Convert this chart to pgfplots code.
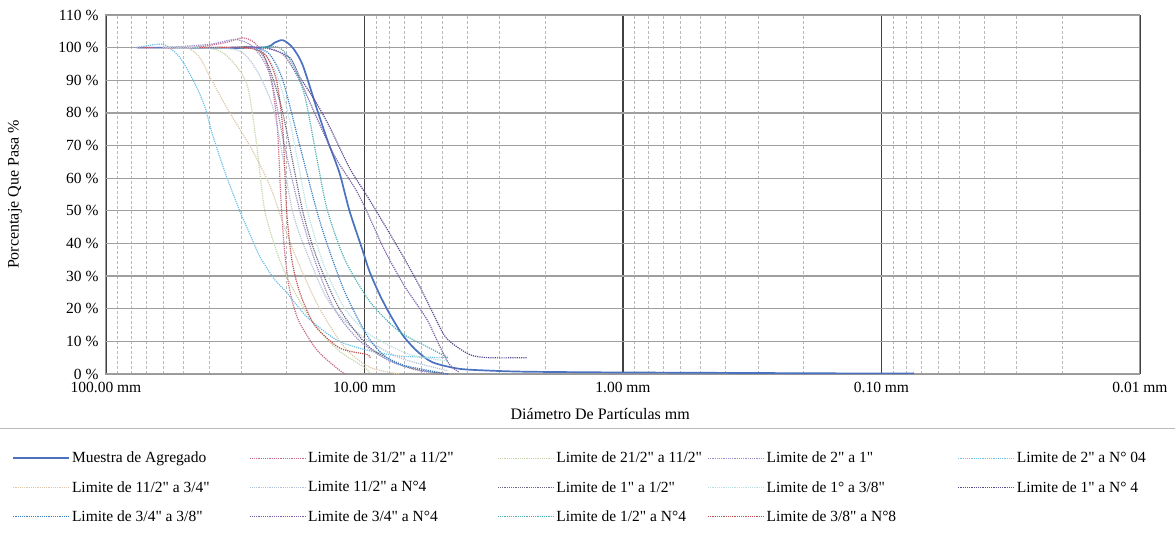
\documentclass[border=0pt]{standalone}
\usepackage{fontspec}
\setmainfont{Liberation Serif}[Ligatures=TeXOff]
\usepackage{pgfplots}
\pgfplotsset{compat=1.18}
\definecolor{cM}{HTML}{4A72C0}
\definecolor{cA}{HTML}{C86A84}
\definecolor{cB}{HTML}{C4D6AA}
\definecolor{cC}{HTML}{9A8AC8}
\definecolor{cD}{HTML}{6EC0E8}
\definecolor{cE}{HTML}{DCC8A8}
\definecolor{cF}{HTML}{B4C4D8}
\definecolor{cG}{HTML}{6A6A80}
\definecolor{cH}{HTML}{B8E0E0}
\definecolor{cI}{HTML}{5A4A90}
\definecolor{cJ}{HTML}{3A80C8}
\definecolor{cK}{HTML}{7A60A8}
\definecolor{cL}{HTML}{50B0B0}
\definecolor{cN}{HTML}{C05050}
\newcommand{\Ca}[1]{\makebox[171pt][l]{#1}}
\newcommand{\Cb}[1]{\makebox[183pt][l]{#1}}
\newcommand{\Cc}[1]{\makebox[145pt][l]{#1}}
\newcommand{\Cd}[1]{\makebox[185pt][l]{#1}}
\newcommand{\Ce}[1]{\makebox[130pt][l]{#1}}
\begin{document}
\begin{tikzpicture}
\useasboundingbox (-106pt,-164pt) rectangle (1069pt,374pt);
\begin{axis}[
  scale only axis, width=1034pt, height=359pt,
  at={(0pt,0pt)}, anchor=south west,
  xmode=log, x dir=reverse, xmin=0.01, xmax=100,
  ymin=0, ymax=110,
  no marks,
  xtick={100,10,1,0.1,0.01},
  xticklabels={100.00 mm,10.00 mm,1.00 mm,0.10 mm,0.01 mm},
  minor xtick={20,30,40,50,60,70,80,90,2,3,4,5,6,7,8,9,0.2,0.3,0.4,0.5,0.6,0.7,0.8,0.9,0.02,0.03,0.04,0.05,0.06,0.07,0.08,0.09},
  ytick={0,10,20,30,40,50,60,70,80,90,100,110},
  yticklabels={0 \%,10 \%,20 \%,30 \%,40 \%,50 \%,60 \%,70 \%,80 \%,90 \%,100 \%,110 \%},
  grid=both,
  major x grid style={black!75, line width=1.2pt},
  major y grid style={gray!75, line width=1.3pt},
  minor grid style={gray!55, line width=0.7pt, densely dashed},
  axis line style={gray!80, line width=1pt},
  major tick length=0pt, minor tick length=0pt,
  tick label style={font=\fontsize{15.5}{17}\selectfont},
  xticklabel style={yshift=-5pt},
  yticklabel style={xshift=-4pt},
  xlabel={Diámetro De Partículas mm},
  ylabel={Porcentaje Que Pasa \%},
  label style={font=\fontsize{16}{18}\selectfont},
  xlabel style={at={(axis description cs:0.478,0)}, anchor=center, yshift=-40pt},
  ylabel style={at={(axis description cs:-0.088,0.5)}, anchor=center},
  legend cell align=left,
  legend image code/.code={\draw[#1] (0pt,0pt) -- (56pt,0pt);},
  legend style={at={(axis description cs:-0.0937,-0.2061)}, anchor=north west,
    draw=none, fill=none, legend columns=5,
    font=\fontsize{15.5}{18}\selectfont, row sep=13pt,
    /tikz/every even column/.append style={column sep=4pt}},
  lim/.style={densely dotted, line width=1.2pt, smooth, tension=0.45},
]
\addplot[cM, line width=1.7pt, smooth, tension=0.45] coordinates {(75.9,100) (50,100) (25,100) (22.3,101.5) (20.7,102.3) (18.97,100) (17.35,94.7) (15.32,81.5) (13.89,71.5) (12.49,61.6) (11.43,50) (10.18,38) (9.57,31.5) (8.76,24.5) (8.0,18.5) (7.13,12) (6.30,7.2) (5.46,3.6) (4.30,1.6) (3.20,1.0) (2.36,0.7) (1.18,0.5) (0.6,0.4) (0.3,0.3) (0.15,0.2) (0.075,0.2)};
\addlegendentry{\Ca{Muestra de Agregado}}
\addplot[cA, lim] coordinates {(75.9,100) (47.4,100) (34.7,101.5) (29.6,103) (26.6,101.5) (24.3,97) (22.7,88) (21.7,75) (21.1,55) (20.5,40) (19.8,29) (19.0,22) (17.8,15.6) (15.3,7.4) (12.8,1.8) (11.9,0)};
\addlegendentry{\Cb{Limite de 31/2" a 11/2"}}
\addplot[cB, lim] coordinates {(60.2,100) (43.4,100) (36.3,99) (31.8,95) (28.3,88) (26.1,70) (24.3,50) (21.3,35) (18.6,25) (15.6,15) (12.5,7) (9.98,2) (9.5,0)};
\addlegendentry{\Cc{Limite de 21/2" a 11/2"}}
\addplot[cC, lim] coordinates {(60.2,100) (39.7,101) (31.8,102.5) (27.8,101) (25.0,97) (22.9,90) (20.4,70) (17.8,50) (15.6,35) (13.1,20) (10.4,10) (8.0,4) (6.13,1) (4.75,0)};
\addlegendentry{\Cd{Limite de 2" a 1"}}
\addplot[cD, lim] coordinates {(75.9,100) (60.2,101) (51.8,97) (45.3,89) (41.5,82) (38.6,73) (34.7,62) (30.4,50) (27.8,43) (25.4,36) (22.3,29) (20.0,25) (16.7,17.5) (12.8,10.4) (9.98,7.5) (7.33,5.5) (4.75,5)};
\addlegendentry{\Ce{Limite de 2" a N° 04}}
\addplot[cE, lim] coordinates {(60.2,100) (48.7,100) (43.4,97) (39.0,90) (33.2,80) (27.8,70) (23.3,58) (20.4,45) (17.8,33) (14.9,20) (11.9,8) (9.5,2) (7.33,0)};
\addlegendentry{\Ca{Limite de 11/2" a 3/4"}}
\addplot[cF, lim] coordinates {(60.2,100) (39.7,100) (30.4,99) (26.1,93) (22.3,80) (19.0,50) (16.3,35) (13.7,22) (10.4,12) (7.33,5) (4.75,1)};
\addlegendentry{\Cb{Limite 11/2" a N°4}}
\addplot[cG, lim] coordinates {(48.7,100) (33.2,100) (26.6,100) (23.7,95) (20.7,80) (17.35,50) (15.2,35) (12.5,20) (9.5,8) (6.7,2) (4.75,0)};
\addlegendentry{\Cc{Limite de 1" a 1/2"}}
\addplot[cH, lim] coordinates {(48.7,100) (30.4,100) (25.0,99) (21.9,92) (19.5,78) (16.6,50) (14.3,33) (11.9,20) (9.5,12) (6.7,6) (4.75,4)};
\addlegendentry{\Cd{Limite de 1° a 3/8"}}
\addplot[cI, lim] coordinates {(33.2,100) (24.3,100) (19.5,97) (17.8,91) (15.6,84) (13.7,76) (11.4,63) (9.5,53) (7.33,38) (6.13,27) (5.46,19) (4.82,11) (3.93,6) (3.29,5) (2.36,5)};
\addlegendentry{\Ce{Limite de 1" a N° 4}}
\addplot[cJ, lim] coordinates {(33.2,100) (26.6,100) (23.3,98) (20.7,90) (17.8,70) (15.3,50) (13.7,38) (11.9,25) (9.98,13) (8.76,7) (7.33,3) (4.75,0)};
\addlegendentry{\Ca{Limite de 3/4" a 3/8"}}
\addplot[cK, lim] coordinates {(33.2,100) (25.0,100) (20.7,98) (17.8,90) (15.6,80) (13.1,67) (10.9,57) (9.82,50) (8.37,38) (7.01,27) (5.76,17) (5.15,9) (4.70,3) (4.30,0.5)};
\addlegendentry{\Cb{Limite de 3/4" a N°4}}
\addplot[cL, lim] coordinates {(25.0,100) (21.3,100) (19.0,95) (17.0,85) (15.2,65) (13.9,50) (11.9,35) (9.5,22) (7.33,13) (5.61,8) (4.75,5)};
\addlegendentry{\Cc{Limite de 1/2" a N°4}}
\addplot[cN, lim] coordinates {(43.4,100) (29.1,100) (24.3,98) (21.9,90) (20.7,75) (20.0,50) (19.1,35) (17.8,25) (15.6,15) (12.5,8) (9.82,6) (9.5,5)};
\addlegendentry{\Cd{Limite de 3/8" a N°8}}
\end{axis}
\draw[gray!55, line width=0.8pt] (-106pt,-54pt) -- (1069pt,-54pt);
\end{tikzpicture}
\end{document}
